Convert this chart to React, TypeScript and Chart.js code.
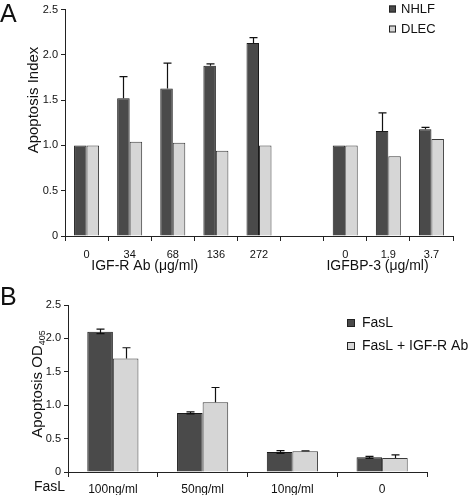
import React, { useEffect, useRef } from "react";
import { Chart, registerables } from "chart.js";
Chart.register(...registerables);

// ---------- Panel A data ----------
const topCategories = ["0", "34", "68", "136", "272", "", "0", "1.9", "3.7"];
const nhlfValues = [1.0, 1.52, 1.63, 1.88, 2.13, null, 1.0, 1.16, 1.18];
const nhlfErrUp = [0, 0.24, 0.28, 0.02, 0.06, 0, 0, 0.2, 0.02];
const dlecValues = [1.0, 1.04, 1.03, 0.94, 1.0, null, 1.0, 0.88, 1.07];
const dlecErrUp = [0, 0, 0, 0, 0, 0, 0, 0, 0];
const topYTicks = [0, 0.5, 1, 1.5, 2, 2.5];
const topGroupLabels = ["IGF-R Ab (\u03BCg/ml)", "IGFBP-3 (\u03BCg/ml)"];
const topSeriesNames = ["NHLF", "DLEC"];

// ---------- Panel B data ----------
const bottomCategories = ["100ng/ml", "50ng/ml", "10ng/ml", "0"];
const fasLValues = [2.1, 0.885, 0.3, 0.22];
const fasLErrUp = [0.04, 0.015, 0.02, 0.015];
const fasLErrDown = [0.03, 0.015, 0.02, 0.015];
const igfValues = [1.7, 1.045, 0.31, 0.21];
const igfErrUp = [0.16, 0.22, 0.005, 0.045];
const igfErrDown = [0, 0, 0, 0];
const bottomYTicks = [0, 0.5, 1, 1.5, 2, 2.5];
const bottomSeriesNames = ["FasL", "FasL + IGF-R Ab"];

const FONT = "'Liberation Sans', Arial, Helvetica, sans-serif";
const DARK = "#4a4a4a";
const LIGHT = "#d6d6d6";

const errorBarPlugin = {
  id: "errorBars",
  afterDatasetsDraw(chart: any) {
    const ctx = chart.ctx;
    const y = chart.scales.y;
    ctx.save();
    ctx.strokeStyle = "#111";
    ctx.lineWidth = 1.2;
    chart.data.datasets.forEach((ds: any, di: number) => {
      const meta = chart.getDatasetMeta(di);
      meta.data.forEach((bar: any, i: number) => {
        const v = ds.data[i];
        if (v == null) return;
        const up = (ds.errUp && ds.errUp[i]) || 0;
        const down = (ds.errDown && ds.errDown[i]) || 0;
        if (!up && !down) return;
        const x = Math.round(bar.x) + 0.5;
        const yt = y.getPixelForValue(v + up);
        const yb = y.getPixelForValue(v - down);
        const cap = 4;
        ctx.beginPath();
        ctx.moveTo(x, yb);
        ctx.lineTo(x, yt);
        if (up) {
          ctx.moveTo(x - cap, yt);
          ctx.lineTo(x + cap, yt);
        }
        if (down) {
          ctx.moveTo(x - cap, yb);
          ctx.lineTo(x + cap, yb);
        }
        ctx.stroke();
      });
    });
    ctx.restore();
  },
};

function drawLegend(ctx: any, items: { label: string; color: string }[], x: number, y: number, box: number, textX: number, gap: number, size: number) {
  ctx.save();
  ctx.font = `${size}px ${FONT}`;
  ctx.textBaseline = "middle";
  ctx.textAlign = "left";
  items.forEach((it, i) => {
    const cy = y + i * gap;
    ctx.fillStyle = it.color;
    ctx.fillRect(x, cy - box / 2, box, box);
    ctx.strokeStyle = "#222";
    ctx.lineWidth = 1;
    ctx.strokeRect(x + 0.5, cy - box / 2 + 0.5, box - 1, box - 1);
    ctx.fillStyle = "#111";
    ctx.fillText(it.label, textX, cy + 0.5);
  });
  ctx.restore();
}

const topDecor = {
  id: "topDecor",
  afterDraw(chart: any) {
    const ctx = chart.ctx;
    const xs = chart.scales.x;
    ctx.save();
    ctx.fillStyle = "#111";
    ctx.font = `25px ${FONT}`;
    ctx.textBaseline = "alphabetic";
    ctx.textAlign = "left";
    ctx.fillText("A", 0, 22);
    // y title
    ctx.save();
    ctx.translate(38, 100);
    ctx.rotate(-Math.PI / 2);
    ctx.font = `15px ${FONT}`;
    ctx.textAlign = "center";
    ctx.textBaseline = "alphabetic";
    ctx.fillText("Apoptosis Index", 0, 0);
    ctx.restore();
    // group labels
    ctx.font = `14px ${FONT}`;
    ctx.textAlign = "center";
    ctx.textBaseline = "middle";
    ctx.fillText(topGroupLabels[0], xs.getPixelForValue(1.35), 266);
    ctx.fillText(topGroupLabels[1], xs.getPixelForValue(6.75), 266);
    ctx.restore();
    drawLegend(
      ctx,
      [
        { label: topSeriesNames[0], color: DARK },
        { label: topSeriesNames[1], color: LIGHT },
      ],
      389, 9, 7, 401, 20, 13
    );
  },
};

const bottomDecor = {
  id: "bottomDecor",
  afterDraw(chart: any) {
    const ctx = chart.ctx;
    ctx.save();
    ctx.fillStyle = "#111";
    ctx.font = `25px ${FONT}`;
    ctx.textAlign = "left";
    ctx.textBaseline = "alphabetic";
    ctx.fillText("B", 0, 30);
    // y title with subscript
    ctx.save();
    ctx.translate(42, 109);
    ctx.rotate(-Math.PI / 2);
    ctx.font = `15px ${FONT}`;
    const main = "Apoptosis OD";
    const sub = "405";
    const wMain = ctx.measureText(main).width;
    ctx.font = `9px ${FONT}`;
    const wSub = ctx.measureText(sub).width;
    const total = wMain + wSub;
    ctx.textAlign = "left";
    ctx.font = `15px ${FONT}`;
    ctx.fillText(main, -total / 2, 0);
    ctx.font = `9px ${FONT}`;
    ctx.fillText(sub, -total / 2 + wMain, 3);
    ctx.restore();
    // FasL axis label
    ctx.font = `14px ${FONT}`;
    ctx.textAlign = "left";
    ctx.textBaseline = "middle";
    ctx.fillText("FasL", 34, 212);
    ctx.restore();
    drawLegend(
      ctx,
      [
        { label: bottomSeriesNames[0], color: DARK },
        { label: bottomSeriesNames[1], color: LIGHT },
      ],
      347, 48, 8, 362, 23, 14
    );
  },
};

function makeScales(ticksArr: number[], xFont: number, xHeight: number, yWidth: number, xPad: number) {
  return {
    x: {
      type: "category" as const,
      grid: {
        display: true,
        drawOnChartArea: false,
        drawTicks: true,
        tickLength: 5,
        color: "#222",
        offset: true,
      },
      border: { display: true, color: "#222", width: 1 },
      ticks: {
        color: "#111",
        font: { family: FONT, size: xFont },
        padding: xPad,
        maxRotation: 0,
        autoSkip: false,
      },
      afterFit(s: any) {
        s.height = xHeight;
      },
    },
    y: {
      min: 0,
      max: 2.5,
      grid: {
        display: true,
        drawOnChartArea: false,
        drawTicks: true,
        tickLength: 4,
        color: "#222",
      },
      border: { display: true, color: "#222", width: 1 },
      ticks: {
        color: "#111",
        font: { family: FONT, size: 11 },
        padding: 3,
      },
      afterBuildTicks(s: any) {
        s.ticks = ticksArr.map((v) => ({ value: v }));
      },
      afterFit(s: any) {
        s.width = yWidth;
      },
    },
  };
}

function TopChart() {
  const ref = useRef<HTMLCanvasElement>(null);
  useEffect(() => {
    const chart = new Chart(ref.current!, {
      type: "bar",
      data: {
        labels: topCategories,
        datasets: [
          {
            label: topSeriesNames[0],
            data: nhlfValues,
            errUp: nhlfErrUp,
            backgroundColor: DARK,
            borderColor: "#1a1a1a",
            borderWidth: 1,
            categoryPercentage: 0.58,
            barPercentage: 1.0,
          } as any,
          {
            label: topSeriesNames[1],
            data: dlecValues,
            errUp: dlecErrUp,
            backgroundColor: LIGHT,
            borderColor: "#3a3a3a",
            borderWidth: 1,
            categoryPercentage: 0.58,
            barPercentage: 1.0,
          } as any,
        ],
      },
      options: {
        responsive: false,
        animation: false,
        devicePixelRatio: 1,
        layout: { padding: { top: 5, right: 22, left: 0, bottom: 0 } },
        plugins: { legend: { display: false }, tooltip: { enabled: false } },
        scales: makeScales(topYTicks, 11, 39, 65, 7) as any,
      },
      plugins: [errorBarPlugin, topDecor],
    });
    return () => chart.destroy();
  }, []);
  return <canvas ref={ref} width={475} height={275} style={{ display: "block" }} />;
}

function BottomChart() {
  const ref = useRef<HTMLCanvasElement>(null);
  useEffect(() => {
    const chart = new Chart(ref.current!, {
      type: "bar",
      data: {
        labels: bottomCategories,
        datasets: [
          {
            label: bottomSeriesNames[0],
            data: fasLValues,
            errUp: fasLErrUp,
            errDown: fasLErrDown,
            backgroundColor: DARK,
            borderColor: "#1a1a1a",
            borderWidth: 1,
            categoryPercentage: 0.57,
            barPercentage: 1.0,
          } as any,
          {
            label: bottomSeriesNames[1],
            data: igfValues,
            errUp: igfErrUp,
            errDown: igfErrDown,
            backgroundColor: LIGHT,
            borderColor: "#3a3a3a",
            borderWidth: 1,
            categoryPercentage: 0.57,
            barPercentage: 1.0,
          } as any,
        ],
      },
      options: {
        responsive: false,
        animation: false,
        devicePixelRatio: 1,
        layout: { padding: { top: 30, right: 48, left: 0, bottom: 0 } },
        plugins: { legend: { display: false }, tooltip: { enabled: false } },
        scales: makeScales(bottomYTicks, 12, 23, 68, 5) as any,
      },
      plugins: [errorBarPlugin, bottomDecor],
    });
    return () => chart.destroy();
  }, []);
  return <canvas ref={ref} width={475} height={220} style={{ display: "block" }} />;
}

export default function App() {
  return (
    <div
      style={{
        position: "fixed",
        left: 0,
        top: 0,
        width: 475,
        height: 495,
        background: "#fff",
        overflow: "hidden",
      }}
    >
      <TopChart />
      <BottomChart />
    </div>
  );
}
